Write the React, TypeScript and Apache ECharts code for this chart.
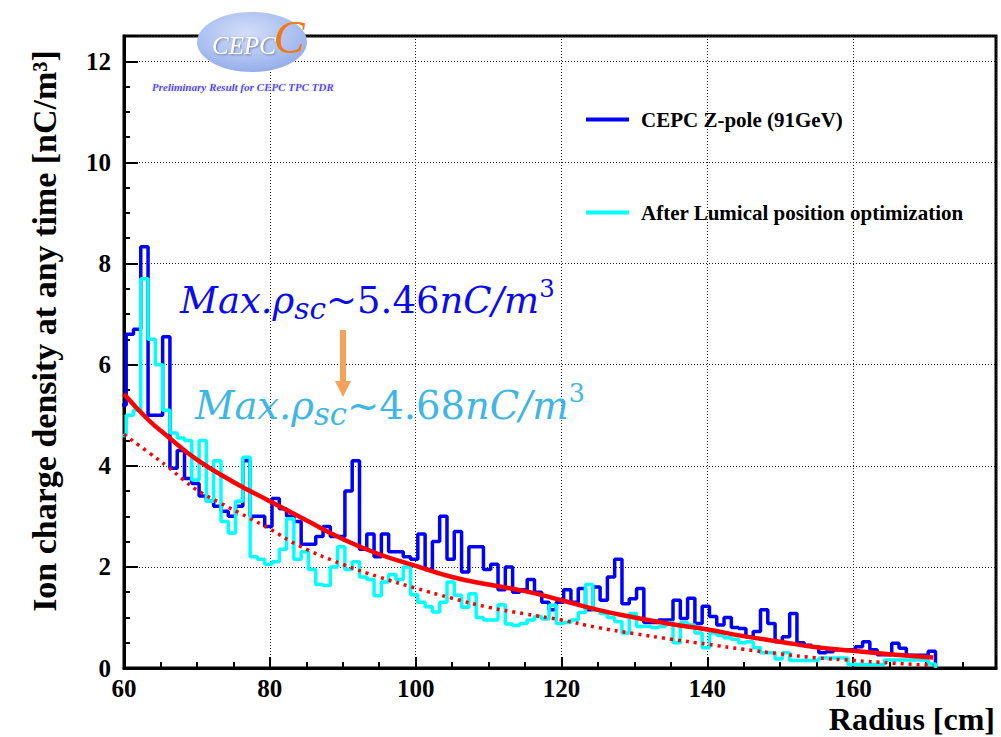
import { useEffect, useRef } from "react";
import * as echarts from "echarts";

// ---- data ----
const binStart = 59.3;
const binWidth = 1;

// CEPC Z-pole (91GeV) histogram, ion charge density per 1 cm radius bin
const zPole = [
  5.2, 6.6, 6.7, 8.33, 5.0, 5.0, 6.55, 3.95, 4.3, 3.75,
  3.65, 3.4, 3.3, 3.2, 3.1, 3.0, 3.2, 4.1, 3.0, 3.0,
  2.8, 3.35, 3.15, 3.0, 2.9, 2.45, 2.45, 2.6, 2.8, 2.6,
  2.6, 3.5, 4.1, 2.35, 2.65, 2.2, 2.65, 2.3, 2.3, 2.2,
  2.15, 2.65, 1.95, 2.5, 3.0, 2.15, 2.7, 1.9, 2.4, 2.4,
  1.95, 2.05, 1.55, 2.0, 1.5, 1.55, 1.75, 1.5, 1.3, 1.15,
  1.3, 1.55, 1.3, 1.57, 1.15, 1.6, 1.34, 1.8, 2.15, 1.27,
  1.37, 1.57, 0.9, 0.9, 0.95, 0.95, 1.34, 0.98, 1.38, 0.88,
  1.22, 1.02, 0.85, 1.0, 0.8, 0.78, 0.62, 0.72, 1.15, 0.88,
  0.52, 0.62, 1.08, 0.5, 0.45, 0.42, 0.3, 0.32, 0.36, 0.36,
  0.36, 0.42, 0.52, 0.36, 0.26, 0.26, 0.49, 0.39, 0.25, 0.25,
  0.25, 0.33,
];

// After Lumical position optimization
const lumical = [
  4.6, 5.0, 5.1, 7.7, 6.5, 6.0, 5.1, 4.65, 4.55, 4.5,
  3.72, 4.5, 3.3, 4.1, 2.9, 2.67, 3.3, 4.17, 2.2, 2.15,
  2.05, 2.1, 2.35, 2.95, 2.15, 2.3, 1.95, 1.65, 1.63, 2.0,
  2.4, 1.95, 2.1, 1.8, 1.75, 1.43, 1.7, 1.85, 1.75, 2.0,
  1.45, 1.3, 1.21, 1.11, 1.3, 1.7, 1.44, 1.2, 1.47, 1.0,
  0.95, 0.95, 1.25, 0.87, 0.84, 0.88, 0.95, 1.02, 0.97, 1.24,
  0.88, 0.9, 0.95, 1.1, 1.65, 1.14, 1.08, 1.0, 0.92, 0.69,
  1.08, 0.82, 0.82, 0.8, 0.82, 0.9, 0.5, 0.9, 0.85, 0.69,
  0.4, 0.69, 0.65, 0.6, 0.57, 0.5, 0.52, 0.4, 0.3, 0.3,
  0.18, 0.3, 0.15, 0.15, 0.15, 0.15, 0.2, 0.2, 0.2, 0.2,
  0.07, 0.07, 0.07, 0.07, 0.07, 0.16, 0.16, 0.16, 0.16, 0.16,
  0.16, 0.08,
];

// fit curves
const fitZRadius = [60, 63.4, 66, 70, 75, 80, 85, 90, 95, 100, 105, 110, 115, 120, 125, 130, 135, 140, 145, 150, 155, 160, 165, 171];
const fitZValue = [5.42, 4.9, 4.58, 4.12, 3.68, 3.3, 2.92, 2.55, 2.25, 2.02, 1.8, 1.65, 1.52, 1.34, 1.15, 1.0, 0.87, 0.76, 0.63, 0.52, 0.41, 0.34, 0.27, 0.21];
const fitLRadius = [60, 63.5, 66, 68, 70, 73, 77, 80, 84, 90, 95, 100, 105, 110, 115, 120, 125, 130, 135, 140, 145, 150, 155, 160, 165, 171];
const fitLValue = [4.62, 4.25, 3.98, 3.74, 3.52, 3.28, 2.98, 2.75, 2.42, 2.05, 1.8, 1.58, 1.38, 1.2, 1.07, 0.95, 0.8, 0.68, 0.57, 0.47, 0.37, 0.28, 0.2, 0.15, 0.1, 0.05];

const xTicks = [60, 80, 100, 120, 140, 160];
const yTicks = [0, 2, 4, 6, 8, 10, 12];

const seriesNames = ["CEPC Z-pole (91GeV)", "After Lumical position optimization"];
const maxZ = "5.46";
const maxL = "4.68";

function histPoints(vals: number[]) {
  const pts: number[][] = [[binStart, 0]];
  vals.forEach((v, i) => {
    pts.push([binStart + i * binWidth, v]);
    pts.push([binStart + (i + 1) * binWidth, v]);
  });
  pts.push([binStart + vals.length * binWidth, 0]);
  return pts;
}

const SERIF = "Liberation Serif";
const MATH = "DejaVu Serif";

function mathRich(color: string, size: number) {
  return {
    it: { fontFamily: MATH, fontStyle: "italic", fontSize: size, fill: color, lineHeight: size + 10 },
    n: { fontFamily: MATH, fontSize: size, fill: color, lineHeight: size + 10 },
    sub: { fontFamily: MATH, fontStyle: "italic", fontSize: size * 0.8, fill: color, verticalAlign: "bottom", lineHeight: size * 0.8 },
    sup: { fontFamily: MATH, fontSize: size * 0.66, fill: color, verticalAlign: "top", lineHeight: size * 0.66 },
  };
}

export default function App() {
  const ref = useRef<HTMLDivElement>(null);
  useEffect(() => {
    if (!ref.current) return;
    const chart = echarts.init(ref.current, undefined, { renderer: "svg" });
    const dotted = { color: "#222", width: 1, type: [1, 2] as number[] };
    const labelStyle = { fontFamily: SERIF, fontWeight: "bold" as const, fontSize: 25, color: "#000" };
    chart.setOption({
      animation: false,
      grid: { left: 124, top: 36, width: 872, height: 632, show: true, borderColor: "#000", borderWidth: 3, backgroundColor: "transparent" },
      xAxis: [
        {
          type: "value", min: 60, max: 179.6, interval: 20, position: "bottom",
          axisLine: { lineStyle: { color: "#000", width: 3 } },
          axisTick: { inside: true, length: 11, lineStyle: { color: "#000", width: 2 } },
          splitLine: { show: true, lineStyle: dotted },
          axisLabel: { ...labelStyle, margin: 8, formatter: (v: number) => (xTicks.includes(v) ? String(v) : "") },
        },
        {
          type: "value", min: 60, max: 179.6, interval: 5, position: "bottom",
          axisLine: { show: false },
          axisTick: { inside: true, length: 6, lineStyle: { color: "#000", width: 2 } },
          splitLine: { show: false }, axisLabel: { show: false },
        },
      ],
      yAxis: [
        {
          type: "value", min: 0, max: 12.5, interval: 2, position: "left",
          axisLine: { show: true, lineStyle: { color: "#000", width: 3 } },
          axisTick: { show: true, inside: true, length: 14, lineStyle: { color: "#000", width: 2 } },
          splitLine: { show: true, lineStyle: dotted },
          axisLabel: { ...labelStyle, margin: 13, formatter: (v: number) => (yTicks.includes(v) ? String(v) : "") },
        },
        {
          type: "value", min: 0, max: 12.5, interval: 0.5, position: "left",
          axisLine: { show: false },
          axisTick: { show: true, inside: true, length: 6, lineStyle: { color: "#000", width: 2 } },
          splitLine: { show: false }, axisLabel: { show: false },
        },
      ],
      legend: {
        data: seriesNames,
        orient: "vertical", left: 581, top: 104, itemGap: 72,
        itemWidth: 43, itemHeight: 4, icon: "rect",
        textStyle: { fontFamily: SERIF, fontWeight: "bold", fontSize: 21, color: "#000", padding: [0, 0, 0, 7] },
        selectedMode: false,
      },
      series: [
        {
          type: "line", name: seriesNames[0], data: histPoints(zPole), symbol: "none", showSymbol: false,
          color: "#0000ff", lineStyle: { color: "#0000ff", width: 3.5 }, z: 3, silent: true,
        },
        {
          type: "line", name: seriesNames[1], data: histPoints(lumical), symbol: "none", showSymbol: false,
          color: "#00ffff", lineStyle: { color: "#00ffff", width: 3.5 }, z: 4, silent: true,
        },
        {
          type: "line", name: "fitL", data: fitLRadius.map((r, i) => [r, fitLValue[i]]), symbol: "none", smooth: true,
          color: "#ff0000", lineStyle: { color: "#ff0000", width: 3.5, type: [3, 5] }, z: 5, silent: true,
        },
        {
          type: "line", name: "fitZ", data: fitZRadius.map((r, i) => [r, fitZValue[i]]), symbol: "none", smooth: true,
          color: "#ff0000", lineStyle: { color: "#ff0000", width: 4.5 }, z: 6, silent: true,
        },
      ],
      graphic: [
        // axis titles
        {
          type: "text", x: 44, y: 331, rotation: Math.PI / 2,
          style: { text: "Ion charge density at any time [nC/m³]", fontFamily: SERIF, fontWeight: "bold", fontSize: 34, fill: "#000", align: "center", verticalAlign: "middle" },
        },
        {
          type: "text", right: 6, top: 703,
          style: { text: "Radius [cm]", fontFamily: SERIF, fontWeight: "bold", fontSize: 32, fill: "#000" },
        },
        // logo
        {
          type: "ellipse", shape: { cx: 252, cy: 42, rx: 55, ry: 30 },
          style: {
            fill: new echarts.graphic.RadialGradient(0.45, 0.35, 0.75, [
              { offset: 0, color: "#d3def9" },
              { offset: 0.6, color: "#aabff0" },
              { offset: 1, color: "#8ba4e6" },
            ]),
          },
          z: 50,
        },
        {
          type: "text", x: 212, y: 45, z: 51,
          style: { text: "CEPC", fontFamily: SERIF, fontStyle: "italic", fontSize: 25, fill: "#ffffff", verticalAlign: "middle", textShadowColor: "#6a7aa0", textShadowBlur: 2, textShadowOffsetX: 1, textShadowOffsetY: 1 },
        },
        {
          type: "text", x: 274, y: 37, z: 52,
          style: { text: "C", fontFamily: SERIF, fontStyle: "italic", fontSize: 46, fill: "#f07a12", verticalAlign: "middle" },
        },
        {
          type: "text", x: 152, y: 87, z: 51,
          style: { text: "Preliminary Result for CEPC TPC TDR", fontFamily: SERIF, fontStyle: "italic", fontWeight: "bold", fontSize: 11, fill: "#5a4ee8", verticalAlign: "middle", textShadowColor: "#b8b8ff", textShadowBlur: 2 },
        },
        // annotations
        {
          type: "text", x: 180, y: 300, z: 60,
          style: {
            text: `{it|Max.ρ}{sub|sc}{n|~${maxZ}}{it|nC/m}{sup|3}`,
            rich: mathRich("#0b0bef", 37),
            verticalAlign: "middle",
          },
        },
        {
          type: "text", x: 195, y: 405, z: 60,
          style: {
            text: `{it|Max.ρ}{sub|sc}{n|~${maxL}}{it|nC/m}{sup|3}`,
            rich: mathRich("#3fb6e4", 38.5),
            verticalAlign: "middle",
          },
        },
        // arrow
        { type: "rect", shape: { x: 340, y: 330, width: 6, height: 52 }, style: { fill: "#f4a259" }, z: 60 },
        { type: "polygon", shape: { points: [[335, 381], [351, 381], [343, 397]] }, style: { fill: "#f4a259" }, z: 60 },
      ],
    });
    return () => chart.dispose();
  }, []);
  return <div ref={ref} style={{ position: "absolute", left: 0, top: 0, width: 1001, height: 737 }} />;
}
